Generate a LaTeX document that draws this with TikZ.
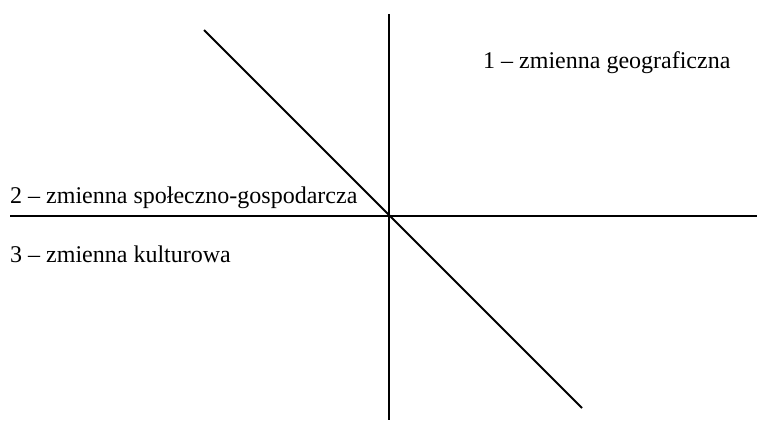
\documentclass[tikz,border=0pt]{standalone}
\usepackage{fontspec}
\setmainfont{Liberation Serif}
\begin{document}
\begin{tikzpicture}[x=1pt,y=-1pt,
  axis/.style={line width=1.9pt, black},
  lbl/.style={anchor=base west, inner sep=0pt, font=\fontsize{24}{28}\selectfont}]
\useasboundingbox (0,0) rectangle (757,420);
\coordinate (O) at (389,216);
\coordinate (L) at (10,216);
\coordinate (R) at (757,216);
\coordinate (T) at (389,14);
\coordinate (B) at (389,420);
\coordinate (D1) at (204,30);
\coordinate (D2) at (582,408);
\draw[axis] (L) -- (R);
\draw[axis] (T) -- (B);
\draw[axis] (D1) -- (D2);
\node[lbl] (n1) at (483,68) {1 – zmienna geograficzna};
\node[lbl] (n2) at (10,203) {2 – zmienna społeczno-gospodarcza};
\node[lbl] (n3) at (10,262) {3 – zmienna kulturowa};
\end{tikzpicture}
\end{document}
